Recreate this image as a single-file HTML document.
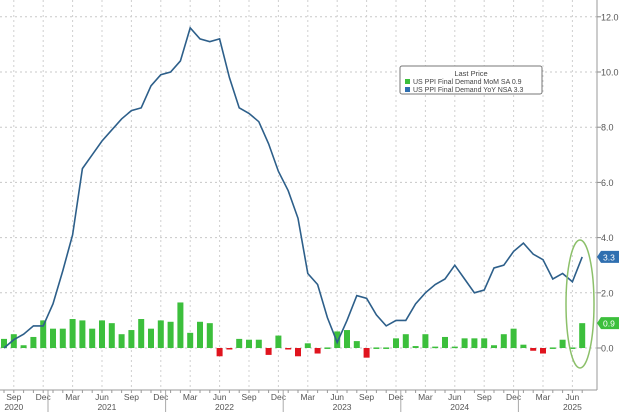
<!DOCTYPE html>
<html><head><meta charset="utf-8"><style>
html,body{margin:0;padding:0;background:#fff;}
svg{display:block;font-family:"Liberation Sans",sans-serif;}
</style></head><body>
<svg id="s" width="620" height="412" viewBox="0 0 620 412"></svg>
<script>
const s=document.getElementById('s');
let h='';
const X=i=>4+i*9.8, Y=v=>348-27.6*v;
for(let v=0;v<=12;v+=2){h+=`<line x1="0" x2="597" y1="${Y(v)}" y2="${Y(v)}" stroke="#c8c8c8" stroke-dasharray="2,3" stroke-width="1"/>`;
h+=`<line x1="597" x2="601" y1="${Y(v)}" y2="${Y(v)}" stroke="#888"/>`;
h+=`<text x="601" y="${Y(v)+3.5}" font-size="9" fill="#555">${v.toFixed(1)}</text>`;}
const mn=['Sep','Dec','Mar','Jun'];
for(let i=1,k=0;i<=58;i+=3,k++){h+=`<line x1="${X(i)}" x2="${X(i)}" y1="0" y2="390" stroke="#d0d0d0" stroke-dasharray="2,3"/>`;
h+=`<text x="${X(i)}" y="400" font-size="8.5" fill="#555" text-anchor="middle">${mn[k%4]}</text>`;}
for(let i=0;i<=59;i++)h+=`<line x1="${X(i)}" x2="${X(i)}" y1="390" y2="393" stroke="#999"/>`;
const yrs=[[2020,1,4],[2021,5,16],[2022,17,28],[2023,29,40],[2024,41,52],[2025,53,59]];
yrs.forEach(([y,a,b],j)=>{if(j>0)h+=`<line x1="${X(a)-5}" x2="${X(a)-5}" y1="390" y2="412" stroke="#aaa"/>`;
h+=`<text x="${j==0?X(1):j==5?X(58):(X(a)+X(b))/2}" y="410" font-size="8.5" fill="#555" text-anchor="middle">${y}</text>`;});
h+=`<line x1="0" x2="597" y1="390" y2="390" stroke="#999"/><line x1="597" x2="597" y1="0" y2="390" stroke="#999"/>`;
const m=[0.33,0.5,0.1,0.4,1.0,0.7,0.7,1.05,1.0,0.7,1.0,0.9,0.5,0.65,1.05,0.7,1.0,0.95,1.65,0.55,0.95,0.9,-0.3,-0.05,0.33,0.3,0.3,-0.25,0.45,-0.05,-0.3,0.17,-0.2,0.02,0.6,0.65,0.25,-0.35,0.02,0.02,0.35,0.5,0.07,0.5,0.05,0.4,0.05,0.35,0.35,0.35,0.1,0.5,0.7,0.12,-0.1,-0.2,0.02,0.3,0.02,0.9];
m.forEach((v,i)=>{const y0=Y(Math.max(v,0)),hh=Math.max(Math.abs(v)*27.6,1.5);
h+=`<rect x="${X(i)-3}" y="${v>=0?y0:348}" width="6" height="${hh}" fill="${v>=0?'#3cbf3c':'#e0141e'}"/>`;});
const l=[0.0,0.3,0.5,0.8,0.8,1.6,2.8,4.1,6.5,7.0,7.5,7.9,8.3,8.6,8.7,9.5,9.9,10.0,10.4,11.6,11.2,11.1,11.2,9.8,8.7,8.5,8.2,7.4,6.4,5.7,4.7,2.7,2.3,1.1,0.2,1.0,1.9,1.8,1.2,0.8,1.0,1.0,1.6,2.0,2.3,2.5,3.0,2.5,2.0,2.1,2.9,3.0,3.5,3.8,3.4,3.2,2.5,2.7,2.4,3.3];
h+=`<polyline fill="none" stroke="#2d5f8a" stroke-width="1.6" points="${l.map((v,i)=>X(i)+','+Y(v)).join(' ')}"/>`;
h+=`<ellipse cx="580" cy="304" rx="14" ry="64" fill="none" stroke="#8cc06a" stroke-width="1.5"/>`;
h+=`<path d="M597 ${Y(3.3)} l4 -6 h18 v12 h-18z" fill="#2f6fb0"/><text x="603" y="${Y(3.3)+3.5}" font-size="8.5" fill="#fff">3.3</text>`;
h+=`<path d="M597 ${Y(0.9)} l4 -6 h18 v12 h-18z" fill="#3cbf3c"/><text x="603" y="${Y(0.9)+3.5}" font-size="8.5" fill="#fff">0.9</text>`;
h+=`<rect x="400" y="66" width="142" height="28" rx="2" fill="#fff" stroke="#777"/>`;
h+=`<text x="471" y="76" font-size="7.5" fill="#444" text-anchor="middle">Last Price</text>`;
h+=`<rect x="405" y="79" width="5" height="5" fill="#3cbf3c"/><text x="413" y="84" font-size="7" fill="#444">US PPI Final Demand MoM SA  0.9</text>`;
h+=`<rect x="405" y="87" width="5" height="5" fill="#2f6fb0"/><text x="413" y="92" font-size="7" fill="#444">US PPI Final Demand YoY NSA 3.3</text>`;
s.innerHTML=h;
</script>
</body></html>
